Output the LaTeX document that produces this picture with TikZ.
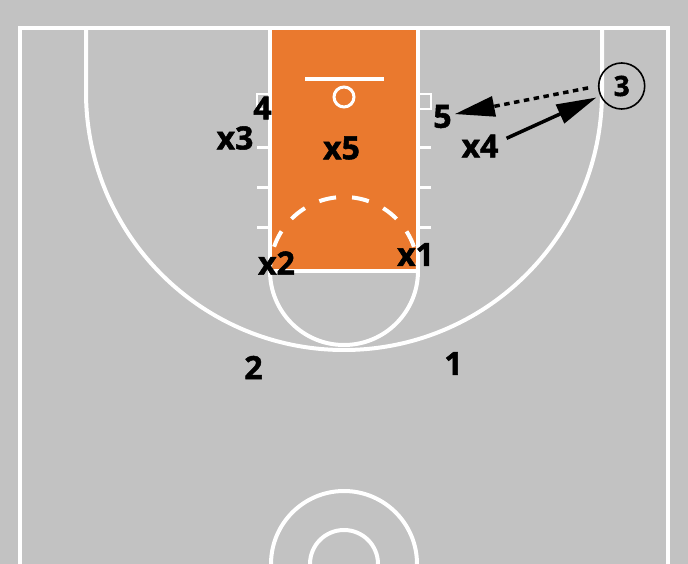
\documentclass[tikz,border=0pt]{standalone}
\usepackage{fontspec}
\setmainfont{Open Sans}
\newfontfamily\lblfont[BoldFeatures={FakeBold=1.6}]{Open Sans}
\usetikzlibrary{arrows.meta}
\definecolor{courtgray}{RGB}{194,194,194}
\definecolor{lanefill}{RGB}{234,121,46}
\begin{document}
\begin{tikzpicture}[x=1pt,y=1pt,
  court/.style={draw=white, line width=4pt},
  thin court/.style={draw=white, line width=2.5pt},
  player/.style={font=\fontsize{32}{32}\lblfont\bfseries, text=black, inner sep=0pt},
  ballhandler/.style={circle, draw=black, line width=1.6pt, minimum size=46pt, inner sep=0pt,
    font=\fontsize{28}{28}\lblfont\bfseries},
  pass/.style={draw=black, line width=3.5pt, dash pattern=on 5.5pt off 4.5pt,
    -{Triangle[length=40pt,width=20pt]}},
  cut/.style={draw=black, line width=3.5pt, -{Triangle[length=40pt,width=20pt]}}]
\fill[courtgray] (0,0) rectangle (688,-564);
\useasboundingbox (0,0) rectangle (688,-564);
\begin{scope}
\clip (0,0) rectangle (688,-564);
% boundary
\draw[court, line join=miter] (20,-580) -- (20,-28) -- (668,-28) -- (668,-580);
% three point line
\draw[court] (86,-28) -- (86,-92) arc[start angle=180,end angle=360,radius=258pt] -- (602,-28);
% lane
\fill[lanefill] (270,-28) rectangle (418,-271);
\draw[court] (270,-28) rectangle (418,-271);
% free throw circle
\draw[court] (270,-271) arc[start angle=180,end angle=360,radius=74pt];
\draw[court, dash pattern=on 17.2pt off 16pt, dash phase=8.6pt]
  (418,-271) arc[start angle=0,end angle=180,radius=74pt];
% lane marks
\foreach \yy in {148,188,228} {
  \draw[court, line width=3pt] (257,-\yy) -- (270,-\yy);
  \draw[court, line width=3pt] (418,-\yy) -- (431,-\yy);
}
\draw[thin court] (257,-94) rectangle (270,-109);
\draw[thin court] (418,-94) rectangle (431,-109);
% backboard and hoop
\draw[court, line width=3.5pt] (305,-79) -- (384,-79);
\draw[court, line width=3pt] (344,-97) circle[radius=10pt];
% center circles
\draw[court] (344,-564) circle[radius=73pt];
\draw[court] (344,-564) circle[radius=34pt];
\end{scope}
% players
\node[player] (o4) at (262.5,-108) {4};
\node[player] (x3) at (235,-138) {x3};
\node[player] (x5) at (341.5,-148) {x5};
\node[player] (o5) at (442.5,-116.5) {5};
\node[player] (x4) at (480,-146) {x4};
\node[player] (x2) at (276.5,-263) {x2};
\node[player] (x1) at (415.5,-254.5) {x1};
\node[player] (o2) at (253.5,-367.5) {2};
\node[player] (o1) at (453.5,-363.5) {1};
\node[ballhandler] (o3) at (621.7,-86) {3};
% movement
\draw[pass, shorten <=10pt, shorten >=3pt] (o3.west) -- (o5);
\draw[cut, shorten >=4pt] ([shift={(8pt,7.7pt)}]x4.east) -- (o3);
\end{tikzpicture}
\end{document}
